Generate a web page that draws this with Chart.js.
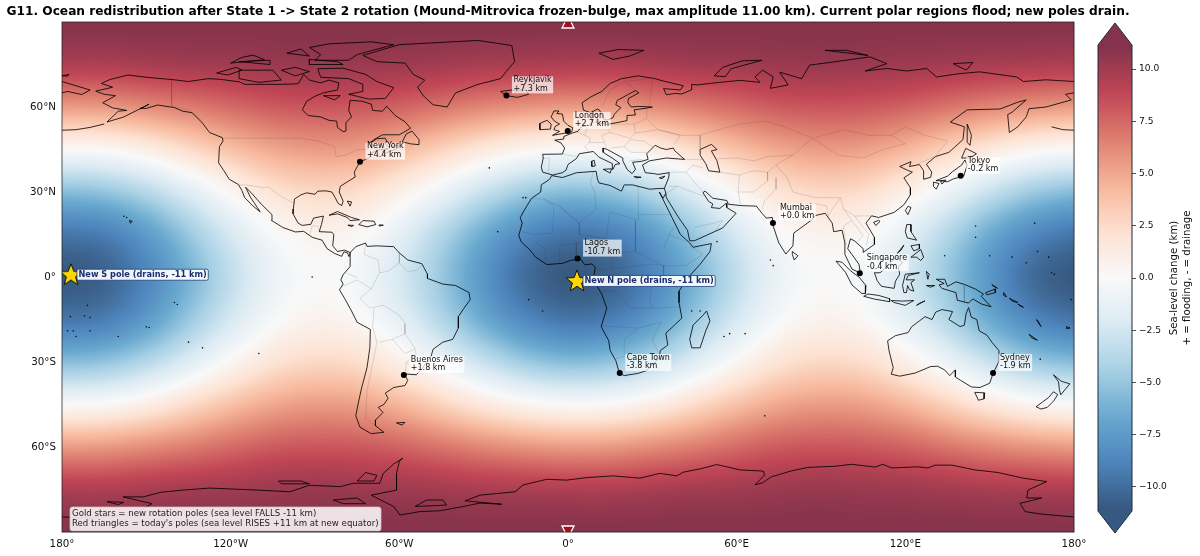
<!DOCTYPE html>
<html>
<head>
<meta charset="utf-8">
<title>G11 ocean redistribution</title>
<script src="https://cdn.jsdelivr.net/npm/chart.js@4"></script>
<style>
html, body { margin: 0; padding: 0; background: #fff; }
canvas { position: absolute; top: 0; }
#map { left: 0; }
#bar { left: 1080px; }
</style>
</head>
<body>
<canvas id="map" width="1136" height="556"></canvas>
<canvas id="bar" width="120" height="556"></canvas>
<script>
var titleText = "G11. Ocean redistribution after State 1 -> State 2 rotation (Mound-Mitrovica frozen-bulge, max amplitude 11.00 km). Current polar regions flood; new poles drain.";
var legendLines = ["Gold stars = new rotation poles (sea level FALLS -11 km)", "Red triangles = today's poles (sea level RISES +11 km at new equator)"];
var barLines = ["Sea-level change (km)", "+ = flooding, - = drainage"];

// sea-level change, km, one row per latitude
var fieldLons = [-180, -165, -150, -135, -120, -105, -90, -75, -60, -45, -30, -15, 0, 15, 30, 45, 60, 75, 90, 105, 120, 135, 150, 165, 180];
var fieldLats = [90, 75, 60, 45, 30, 15, 0, -15, -30, -45, -60, -75, -90];
var fieldValues = [
    [11, 11, 11, 11, 11, 11, 11, 11, 11, 11, 11, 11, 11, 11, 11, 11, 11, 11, 11, 11, 11, 11, 11, 11, 11],
    [9.5, 9.5, 9.7, 9.9, 10, 10.2, 10.3, 10.2, 10.1, 9.9, 9.7, 9.6, 9.5, 9.5, 9.7, 9.9, 10, 10.2, 10.3, 10.2, 10.1, 9.9, 9.7, 9.6, 9.5],
    [5.5, 5.6, 6.1, 6.7, 7.4, 8, 8.2, 8.1, 7.7, 7, 6.3, 5.8, 5.5, 5.6, 6.1, 6.7, 7.4, 8, 8.2, 8.1, 7.7, 7, 6.3, 5.8, 5.5],
    [0, 0.2, 1.1, 2.5, 3.9, 5, 5.5, 5.3, 4.4, 3, 1.6, 0.5, 0, 0.2, 1.1, 2.5, 3.9, 5, 5.5, 5.3, 4.4, 3, 1.6, 0.5, 0],
    [-5.5, -5.1, -3.8, -1.8, 0.3, 2, 2.7, 2.4, 1, -0.9, -3, -4.7, -5.5, -5.1, -3.8, -1.8, 0.3, 2, 2.7, 2.4, 1, -0.9, -3, -4.7, -5.5],
    [-9.5, -9.1, -7.4, -4.9, -2.3, -0.2, 0.7, 0.3, -1.4, -3.9, -6.5, -8.5, -9.5, -9.1, -7.4, -4.9, -2.3, -0.2, 0.7, 0.3, -1.4, -3.9, -6.5, -8.5, -9.5],
    [-11, -10.5, -8.7, -6.1, -3.3, -1, 0, -0.5, -2.3, -4.9, -7.7, -10, -11, -10.5, -8.7, -6.1, -3.3, -1, 0, -0.5, -2.3, -4.9, -7.7, -10, -11],
    [-9.5, -9.1, -7.4, -4.9, -2.3, -0.2, 0.7, 0.3, -1.4, -3.9, -6.5, -8.5, -9.5, -9.1, -7.4, -4.9, -2.3, -0.2, 0.7, 0.3, -1.4, -3.9, -6.5, -8.5, -9.5],
    [-5.5, -5.1, -3.8, -1.8, 0.3, 2, 2.7, 2.4, 1, -0.9, -3, -4.7, -5.5, -5.1, -3.8, -1.8, 0.3, 2, 2.7, 2.4, 1, -0.9, -3, -4.7, -5.5],
    [0, 0.2, 1.1, 2.5, 3.9, 5, 5.5, 5.3, 4.4, 3, 1.6, 0.5, 0, 0.2, 1.1, 2.5, 3.9, 5, 5.5, 5.3, 4.4, 3, 1.6, 0.5, 0],
    [5.5, 5.6, 6.1, 6.7, 7.4, 8, 8.2, 8.1, 7.7, 7, 6.3, 5.8, 5.5, 5.6, 6.1, 6.7, 7.4, 8, 8.2, 8.1, 7.7, 7, 6.3, 5.8, 5.5],
    [9.5, 9.5, 9.7, 9.9, 10, 10.2, 10.3, 10.2, 10.1, 9.9, 9.7, 9.6, 9.5, 9.5, 9.7, 9.9, 10, 10.2, 10.3, 10.2, 10.1, 9.9, 9.7, 9.6, 9.5],
    [11, 11, 11, 11, 11, 11, 11, 11, 11, 11, 11, 11, 11, 11, 11, 11, 11, 11, 11, 11, 11, 11, 11, 11, 11]
];

var cityNames = ["Reykjavik", "London", "New York", "Tokyo", "Mumbai", "Singapore", "Lagos", "Cape Town", "Buenos Aires", "Sydney"];
var cityLons = [-21.9, -0.1, -74, 139.7, 72.9, 103.8, 3.4, 18.4, -58.4, 151.2];
var cityLats = [64.1, 51.5, 40.7, 35.7, 19.1, 1.35, 6.5, -33.9, -34.6, -33.9];
var cityChanges = ["+7.3 km", "+2.7 km", "+4.4 km", "-0.2 km", "+0.0 km", "-0.4 km", "-10.7 km", "-3.8 km", "+1.8 km", "-1.9 km"];

var newPoleNames = ["New N pole (drains, -11 km)", "New S pole (drains, -11 km)"];
var newPoleLons = [3.2, -176.8];
var newPoleLats = [-1.4, 0.8];
var oldPoleLons = [0, 0];
var oldPoleLats = [90, -90];

var islandLons = [-177, -172, -170, -160, -158, -150, -149, -140, -139, -135, -130, -175, -176, -152, -157, -110, -91, -25, -16, -28, -15, 57.5, 55.5, 73, 72, 63, 70, 145, 145, 150, 158, 163, 167, 171, 172, 173, 179, 166, 168, -178, -170, -171, -14, -9, 47, 44, 53, 134];
var islandLats = [-14, -13.7, -14.3, -21, 21.4, -17.6, -17.8, -9, -9.7, -23, -25, -21, -19, 59.5, 21, -27, 0, 16, 28, 38.5, 28, -20, -21, 4, 6, -20, -49, 14, 18, 7.5, 7, 5, 9, 7, 1.5, 1, -8, 19, -29, -19, -19, -10, -8, -12, -12, -12, 12.5, 7.5];

var coastNorthAmerica = [[-168, 65.6], [-164, 66.5], [-162, 67], [-166, 68.3], [-163, 69.7], [-156.5, 71.3], [-150, 70.5], [-141, 69.7], [-135, 69], [-128, 70], [-124, 69.8], [-117, 68.9], [-115, 68], [-108, 68], [-102, 68], [-96, 68.2], [-94, 71.5], [-92, 69.5], [-88, 68.5], [-85, 69.5], [-81.5, 68.5], [-82, 66], [-87, 65], [-90, 63.8], [-93, 62], [-94.5, 59], [-92.5, 57], [-88, 56.5], [-85, 55.3], [-82.3, 55], [-82, 52.8], [-80, 51.3], [-79, 51.5], [-79, 54.5], [-77, 56.5], [-78, 58.8], [-77.5, 62.4], [-73, 62], [-70, 61], [-69.5, 58.8], [-66, 58.5], [-64.5, 60.3], [-61.5, 57], [-58, 54.8], [-56, 52.5], [-60, 50.2], [-66, 50.2], [-69, 48.5], [-71, 46.9], [-68, 48.8], [-65, 49], [-64.5, 48], [-65, 47], [-64, 46], [-60, 46.5], [-61, 45.2], [-65.5, 43.5], [-66, 44.5], [-64, 45.3], [-67, 45], [-70, 43.7], [-70.7, 42], [-74, 40.7], [-75.5, 38], [-76, 37], [-75.7, 35.3], [-78, 33.9], [-81, 32], [-81.4, 30], [-80, 26.8], [-80.5, 25.2], [-81.8, 26], [-82.8, 28], [-84, 30], [-86, 30.4], [-89, 30.3], [-90, 29.2], [-93, 29.7], [-95, 29], [-97.3, 27.5], [-97.7, 24], [-97.8, 22.3], [-96, 19], [-94.5, 18.2], [-91.5, 18.6], [-90.5, 20.8], [-87, 21.5], [-87.7, 18.5], [-88.5, 16], [-84, 15.8], [-83.3, 14.9], [-83.7, 11], [-82, 9], [-79.5, 9.5], [-77.4, 8.6], [-77.9, 7.2], [-78.5, 8.6], [-79.7, 8.9], [-80.5, 7.3], [-83, 8.3], [-85.7, 10], [-87.5, 13], [-91, 14], [-94, 16.1], [-97, 15.9], [-101.5, 17.5], [-105.5, 20], [-105.3, 22], [-109, 25.6], [-112.5, 29.5], [-114.7, 31.7], [-113, 28.2], [-110.5, 24.5], [-109.5, 23], [-112, 25], [-115, 28], [-116, 30.5], [-117.2, 32.6], [-120.5, 34.5], [-122.4, 37.5], [-124.3, 40.3], [-124, 46], [-122.7, 48], [-123, 49.2], [-127.5, 51], [-130, 54.3], [-133.7, 58], [-137, 58.5], [-140, 59.8], [-146, 60.7], [-150, 59.5], [-152, 59.5], [-149, 61], [-154, 58.5], [-158, 56.5], [-164, 54.7], [-160, 58.5], [-157, 58.8], [-162, 59.7], [-165.5, 61.5], [-161, 64], [-165, 64.5], [-168, 65.6]];
var coastSouthAmerica = [[-77.5, 8.6], [-75.5, 10.7], [-72, 12], [-71.5, 10.8], [-68, 11], [-62, 10.7], [-60, 8.5], [-57, 6], [-52, 4.7], [-50, 1], [-50, -0.5], [-44.5, -2.5], [-40, -3], [-35.2, -5.5], [-34.8, -8], [-37, -11], [-39, -14], [-39, -18], [-41, -22], [-44.5, -23], [-48, -25.5], [-48.7, -28], [-52, -32.5], [-54, -34.5], [-58.3, -34.2], [-57, -36.5], [-58, -38.3], [-62, -39], [-65, -41], [-64, -42.8], [-65.5, -45], [-67.5, -46], [-65.8, -47.8], [-68.5, -50.5], [-68.5, -52.5], [-65.5, -54.8], [-70, -55.3], [-74, -53], [-75.5, -49], [-74.5, -44], [-73.5, -39.5], [-71.5, -32], [-70.5, -25], [-70.3, -18.5], [-75, -16], [-77, -12], [-79.5, -7.5], [-81.3, -4.5], [-80, -2.5], [-80.8, -1], [-80, 0.8], [-77.5, 3.7], [-77.5, 7], [-77.5, 8.6]];
var coastAfrica = [[-5.8, 35.8], [-2, 35.1], [3, 36.8], [10, 37.3], [10.5, 34.5], [11, 33.2], [15, 32.3], [19, 30.3], [20, 32.5], [23, 32.5], [29, 31], [32, 31.2], [34.3, 31.3], [34.8, 29.5], [33.8, 27.8], [32.5, 30], [33.5, 28], [35.5, 24], [37, 21], [38.5, 18], [40, 15], [43.3, 12], [44.5, 10.5], [51, 11.8], [50.5, 9], [47, 4.5], [42, -1], [39.5, -5], [39.5, -9], [40.5, -14.5], [37, -17.8], [34.8, -19.8], [35.5, -24], [32.8, -26], [32.5, -28.5], [28, -33], [25, -34], [20, -34.8], [18.3, -34], [17, -29.5], [15, -26], [14.5, -22.5], [11.8, -17.5], [13.8, -11], [12, -6], [9, -1], [9.7, 3.5], [8.5, 4.6], [6, 4.3], [4.5, 6.3], [1, 5.9], [-2, 4.8], [-7.5, 4.4], [-11.5, 7], [-13.5, 9.5], [-16.7, 12.5], [-17.5, 14.7], [-16.3, 19], [-17, 21], [-15, 24.5], [-13, 27.7], [-9.7, 30], [-9.5, 32.5], [-6.5, 34.5], [-5.8, 35.8]];
var coastEurasiaNorth = [[-5.5, 36], [-9, 37], [-9.5, 38.7], [-8.8, 42], [-9, 43.3], [-2, 43.4], [-1.2, 45.5], [-2.5, 47.3], [-4.7, 48.3], [-1.5, 48.7], [-1.5, 49.6], [1.5, 50.8], [3.5, 51.4], [4.7, 53], [8, 53.7], [8.5, 55.5], [8.2, 57], [10.5, 57.7], [10.5, 56], [10, 54.5], [12, 54.2], [14.2, 53.9], [18.5, 54.7], [21, 55.2], [21, 57], [24, 57.2], [23.5, 59], [28, 59.6], [30, 60], [25, 60.2], [22.5, 60], [21.3, 61.5], [21.5, 63], [25.2, 65], [24, 65.8], [21.5, 64.5], [17.5, 62.3], [17, 60.8], [18.8, 59.8], [16.5, 57.5], [16, 56.2], [14.2, 55.5], [12.8, 55.5], [11.2, 58.9], [10.5, 59.3], [8, 58], [5.5, 58.9], [5, 61.5], [8, 63.5], [12, 65.5], [15, 68.3], [19, 70], [25, 71], [31, 70], [33, 69.4], [41, 67.5], [40, 66], [34, 66.5], [35, 64.3], [38, 64.8], [40.5, 64.6], [44, 66.1], [44, 68], [46, 67.8], [53, 68.6], [61.2, 69.4], [68.3, 68.7], [66.5, 70.6], [69.3, 73], [73, 70.6], [72, 66.6], [78.3, 67.8], [75.3, 72.3], [83.1, 70], [86, 74.8], [96.7, 76.2], [107.4, 77.7], [113.4, 75.3], [105.7, 72.7], [113.4, 73.6], [120.5, 72.7], [127.6, 73.6], [131.1, 70.6], [139.4, 71.8], [146.5, 72.4], [159.6, 70.6], [162, 69], [170, 69.6], [180, 69]];
var coastChukotka = [[-180, 69], [-175, 67.5], [-170, 66], [-173, 64.4], [-178, 65.5], [-180, 65]];
var coastEurasiaEast = [[180, 65], [177, 64.5], [179, 62.5], [170, 60], [164, 59.4], [163, 56.5], [160, 53], [157, 51], [156.4, 57.3], [158, 58.2], [163, 62.5], [160, 61.7], [153.7, 59.3], [142, 59], [136, 54.7], [141, 53], [140.5, 48.5], [135.5, 44], [130.7, 42.5], [127.5, 39.8], [129.4, 37], [129, 35.2], [126.5, 34.5], [126.5, 37.5], [125, 39.7], [121.5, 39], [122, 40.7], [118, 39], [120.7, 37.7], [122.5, 37], [119.5, 35], [121.8, 31.5], [121.8, 29], [119.5, 25.5], [116, 22.8], [110.5, 21], [108, 21.6], [106, 19], [109, 14], [109, 11.5], [105, 8.7], [105, 10], [102, 12.7], [100.5, 13.5], [99.5, 10], [103.5, 4.5], [104, 1.4], [101, 2.8], [98.5, 8], [98.5, 12], [97.5, 16.5], [94.5, 16], [94, 19], [91.5, 22.5], [88, 21.7], [86.5, 20], [80.3, 15.5], [80, 11], [77.5, 8.1], [75, 12], [73, 18], [72.7, 21], [70.5, 20.8], [69, 22.5], [67, 25], [61.5, 25.2], [57, 25.7], [56.5, 27], [51.5, 27.8], [48.8, 30.3], [48, 29.8], [50, 26.7], [51.5, 25.8], [51, 24.5], [54, 24.2], [56.3, 26], [56.5, 24.5], [59.8, 22.5], [55, 17.3], [45, 12.8], [43.3, 12.8], [42.5, 16.5], [39, 21.5], [35, 28], [34.8, 29.5]];
var coastMediterranean = [[34.3, 31.3], [35.8, 35], [36, 36.8], [32, 36.2], [30.5, 36.5], [27.5, 36.8], [26.5, 39.5], [29, 41], [35, 42], [41.5, 41.5], [38, 44.5], [37.5, 45.5], [35, 45], [33, 45.5], [31, 46.5], [28, 43.5], [28.5, 41.5], [26, 40.8], [23, 40.5], [24, 38], [22.8, 36.5], [21, 38], [19.5, 41], [19.5, 42], [14, 45], [12.5, 45.5], [12.5, 44], [16, 41.8], [18.5, 40], [16.8, 39.7], [16, 38], [15.8, 40], [11, 42.3], [9, 44.3], [4, 43.5], [3, 41.8], [0, 39.7], [-0.7, 37.7], [-2, 36.8], [-5.5, 36]];
var coastCaspian = [[47, 45], [51, 46.8], [53, 45], [51, 44.5], [53, 41], [54, 37], [50, 37.5], [49, 40], [47, 43], [47, 45]];
var coastAustralia = [[113.7, -22.5], [114.2, -26], [115.7, -32], [115, -34.3], [118, -35], [123.5, -33.9], [129, -31.6], [131.5, -31.5], [134, -32.8], [135.8, -34.8], [137.8, -32.8], [137.8, -35.3], [139.7, -36.5], [143.5, -38.8], [146.5, -39], [150, -37.5], [151.3, -33.8], [153.2, -30], [153.3, -26], [150.8, -23], [149, -20.5], [146.3, -19], [145.4, -15], [143.5, -14.2], [142.5, -10.8], [141.6, -13], [141, -17], [139.5, -17.5], [135.5, -15], [136.8, -12.2], [133, -11.5], [130.8, -12.4], [129.5, -15], [127, -14], [125, -15.5], [122.3, -17.5], [121, -19.6], [116.5, -20.7], [113.7, -22.5]];
var coastAntarctica = [[-180, -84.7], [-170, -85], [-155, -84], [-148, -80], [-158.3, -77.6], [-151, -77.6], [-145, -76], [-137, -75.2], [-127.4, -74.5], [-110.7, -75.2], [-98.9, -75.8], [-92, -73.5], [-81, -74], [-76.4, -72.8], [-67, -72.8], [-65.7, -69.3], [-62, -66], [-58.7, -63.9], [-60, -65], [-61, -69.3], [-61, -75.2], [-70, -77], [-66, -79], [-62, -81], [-59.8, -84], [-52.7, -82.8], [-45.5, -82.5], [-37.3, -81], [-31.3, -79.8], [-23.6, -80.2], [-36.6, -79], [-31.3, -77], [-18.8, -75.8], [-16, -73.4], [-7.6, -71.4], [-0.5, -71.7], [6.6, -70.8], [16, -70.2], [25.6, -71], [32.7, -69.3], [38.7, -70.2], [41, -68.9], [48, -67.5], [52.9, -66.2], [56.5, -67], [61.2, -68.1], [69.5, -68.5], [69.9, -69.9], [66.5, -73.4], [69.3, -72.6], [72.4, -70.5], [79.6, -68.4], [85.4, -67.2], [95, -66.8], [100.9, -66.1], [109.2, -67.1], [112, -66.1], [115.1, -67.4], [124.5, -67], [128, -67.4], [130.6, -66.4], [136.5, -66.4], [144.8, -68.1], [153, -69], [161.9, -71], [170.3, -72.2], [163.6, -75.2], [163.2, -78], [168.5, -78], [160.8, -79.9], [162.6, -82.8], [168.5, -83.7], [180, -84.7]];
var coastIslands = [
    [[-80, 73.7], [-72, 71.5], [-68, 69], [-62, 66.8], [-65, 63], [-71, 62.8], [-78, 64.5], [-73, 65.5], [-73, 68], [-78, 70], [-88, 70.5], [-89, 73.5], [-80, 73.7]],
    [[-117, 73], [-105, 73], [-102, 69.5], [-110, 68.7], [-117, 70], [-117, 73]],
    [[-125, 72], [-118, 74], [-116, 73], [-121, 71.3], [-125, 72]],
    [[-90, 76.5], [-78, 76.5], [-75, 78.5], [-62, 82], [-70, 83], [-85, 82.3], [-92, 81], [-88, 78.5], [-90, 76.5]],
    [[-92, 75], [-80, 75], [-82, 76], [-92, 76.8], [-92, 75]],
    [[-117, 76], [-106, 75], [-106, 76.5], [-117, 76]],
    [[-100, 79], [-92, 78], [-95, 80.5], [-100, 79]],
    [[-120, 75.5], [-116, 77.5], [-112, 78.3], [-108, 76.7], [-120, 75.5]],
    [[-102, 73], [-97, 71], [-92, 72.5], [-97, 74], [-102, 73]],
    [[-87, 64], [-81, 64], [-83, 62.5], [-87, 64]],
    [[-59, 47.7], [-56, 47], [-53, 46.7], [-53, 48.5], [-55.5, 51.5], [-57.5, 50.5], [-59, 47.7]],
    [[-73, 78.2], [-60, 82], [-32, 83.5], [-20, 81.7], [-19, 76], [-22, 72.5], [-24, 70], [-32, 68], [-40, 65], [-43, 60], [-48, 60.8], [-51.5, 64], [-53.5, 67], [-51, 69.5], [-55, 71.5], [-58, 75.5], [-68, 76], [-73, 78.2]],
    [[-24, 65.5], [-22, 64], [-18, 63.4], [-14, 64.5], [-15, 66], [-20, 66], [-24, 65.5]],
    [[-85, 21.8], [-82, 23.1], [-77, 21], [-74.2, 20.2], [-77.5, 19.9], [-78.5, 21], [-82, 22.3], [-85, 21.8]],
    [[-74.4, 18.5], [-73, 19.9], [-69, 19.7], [-68.4, 18.5], [-71.5, 17.7], [-74.4, 18.5]],
    [[-78.3, 18.3], [-76.3, 18.2], [-77, 17.8], [-78.3, 18.3]],
    [[-67.2, 18.4], [-65.7, 18.3], [-67, 18], [-67.2, 18.4]],
    [[-78.5, 26.8], [-77, 26.5], [-77.5, 25], [-78.5, 26.8]],
    [[-61, -51.5], [-58, -51.3], [-59, -52.3], [-61, -51.5]],
    [[49.3, -12], [50.5, -15.5], [49, -19], [47, -25], [44, -25], [43.3, -22], [44.5, -17], [48, -13.5], [49.3, -12]],
    [[-5.5, 50], [1.3, 51.2], [1.7, 52.7], [0, 53.5], [-1.5, 55], [-2, 57.5], [-4, 57.7], [-3.2, 58.6], [-5, 58.6], [-6, 56.5], [-4.8, 55], [-3, 54], [-4.5, 53.2], [-5, 52], [-3, 51.4], [-5.5, 50]],
    [[-10, 52], [-6.2, 52.2], [-6, 54], [-7.5, 55.3], [-10, 54.2], [-10, 52]],
    [[8.5, 39], [9.7, 39.2], [9.3, 41.2], [8.3, 40.8], [8.5, 39]],
    [[12.5, 38], [15.5, 38.2], [15, 36.7], [12.5, 38]],
    [[23.5, 35.5], [26, 35.2], [24, 35], [23.5, 35.5]],
    [[32.5, 35], [34.5, 35.6], [33.5, 34.7], [32.5, 35]],
    [[11, 79], [16, 76.8], [22, 78], [27, 80], [18, 80.3], [11, 79]],
    [[52, 71], [56, 70.7], [58, 73.5], [69, 76.5], [62, 76.3], [55, 74], [52, 71]],
    [[91.4, 80], [99, 80], [106.7, 78.2], [100, 79], [91.4, 80]],
    [[137, 75.3], [144, 75.7], [141.7, 73], [137, 75.3]],
    [[142, 54], [143.5, 50], [143, 46.5], [142, 47.5], [142, 54]],
    [[130.9, 34], [135, 35.6], [136.8, 37.2], [140, 39.5], [141.2, 41.3], [142, 39.5], [140.8, 35.7], [137, 34.6], [135, 33.6], [132, 34], [130.9, 34]],
    [[140, 42], [141.5, 45.4], [145.3, 43.5], [143, 42], [140, 42]],
    [[130, 33.5], [132, 33], [131, 31], [130, 32], [130, 33.5]],
    [[132.5, 34], [134.5, 34.2], [133, 32.8], [132.5, 34]],
    [[121, 25], [122, 24.5], [120.9, 22], [120, 23.5], [121, 25]],
    [[108.7, 19.3], [110.5, 20], [111, 19.6], [109.5, 18.2], [108.7, 19.3]],
    [[79.8, 9], [81.8, 7.5], [80.5, 6], [79.8, 8], [79.8, 9]],
    [[120.5, 18.5], [122, 18.5], [122, 16], [124, 13], [120.7, 13.8], [120, 16], [120.5, 18.5]],
    [[122, 7], [125.5, 9.7], [126.5, 7], [125.5, 5.8], [124, 7], [122, 7]],
    [[117.2, 8.4], [119.5, 11.3], [118.5, 9.5], [117.2, 8.4]],
    [[122, 11], [125, 11.5], [125, 10], [123, 9.2], [122, 11]],
    [[109, 1.5], [111, 1.5], [113, 3.2], [116.8, 7], [119, 5], [117.5, 3.5], [118, 1], [116.5, -1.5], [116, -4], [111.5, -3.3], [110, -1.3], [109, 1.5]],
    [[95.3, 5.6], [97.5, 5.2], [100.5, 2.2], [103.5, 0], [106, -3], [105.8, -5.8], [104.5, -5.8], [101, -2.8], [98.7, 1.7], [95.3, 5.6]],
    [[105.2, -6.8], [106.7, -6], [110.5, -6.5], [114.5, -7.7], [114.4, -8.7], [109, -7.8], [105.2, -6.8]],
    [[115, -8.3], [119, -8.5], [123, -8.3], [120, -10], [116, -9], [115, -8.3]],
    [[124, -10], [127, -8.4], [125, -9.3], [124, -10]],
    [[120, 1], [125, 1.5], [121, 0.5], [120.3, -1], [123.3, -1], [122, -2], [123, -5], [121.5, -4.5], [120.8, -3], [120.4, -5.5], [119.5, -5.5], [119, -3], [120, 1]],
    [[127.5, 2], [128.5, 1], [128, -0.8], [127.5, 2]],
    [[127.5, -3], [130.5, -3], [129, -3.6], [127.5, -3]],
    [[131, -0.8], [134, -0.8], [135, -3.3], [138, -1.7], [141, -2.6], [145, -4.3], [147.8, -6], [147, -6.8], [150.5, -10.5], [147, -9.5], [144, -7.7], [142.5, -9.2], [138.5, -8.2], [138, -5.5], [133, -4], [132, -2.8], [133.8, -2.3], [131, -0.8]],
    [[148.5, -5.6], [152, -4.2], [152, -5.5], [149, -6.3], [148.5, -5.6]],
    [[150.8, -2.7], [152.8, -4], [151, -3], [150.8, -2.7]],
    [[155, -5.5], [156, -7], [155, -6.5], [155, -5.5]],
    [[157, -7.5], [160, -9], [158, -8.5], [157, -7.5]],
    [[160, -9.5], [162, -10.7], [160.5, -10], [160, -9.5]],
    [[164, -20.2], [167, -22.3], [165, -21.5], [164, -20.2]],
    [[166.7, -15], [167.5, -16], [168.3, -17.5], [167.5, -16.5], [166.7, -15]],
    [[177.3, -17.5], [178.6, -18], [177.5, -18.2], [177.3, -17.5]],
    [[144.7, -40.7], [148.2, -40.9], [148, -43], [146, -43.5], [144.7, -40.7]],
    [[172.7, -34.5], [175.5, -36.8], [178.5, -37.7], [177, -39.5], [175.3, -41.6], [174.8, -39.8], [174.5, -37], [172.7, -34.5]],
    [[172.7, -40.5], [174.2, -41.5], [172.8, -43.7], [170.5, -46], [168.3, -46.6], [166.5, -45.8], [171, -42.5], [172.7, -40.5]],
    [[-156, 20], [-155, 19.6], [-155.7, 19], [-156, 20]],
    [[-180, 51.8], [-175, 52], [-170, 52.8], [-165, 54]],
    [[172, 53], [176, 52], [180, 51.8]],
    [[-180, 71], [-177.5, 71.5], [-178, 70.9], [-180, 71]],
    [[-103, -72], [-95, -72], [-92, -73], [-102, -73], [-103, -72]],
    [[-83.5, -78.7], [-75, -78], [-72, -80], [-80, -80], [-83.5, -78.7]],
    [[-72, -69], [-68, -70], [-69, -72], [-75, -72], [-72, -69]],
    [[-54.4, -81], [-50.3, -78.7], [-44.5, -78.7], [-43.2, -80.5], [-54.4, -81]],
    [[-164, -79.3], [-158, -79.5], [-160, -80.3], [-164, -79.3]]
];

var borderLines = [
    [[-123, 49], [-95, 49], [-89, 48], [-83, 46], [-82.5, 42.5], [-79, 43], [-75, 45], [-71, 45], [-69, 47.3], [-67.5, 45.5]],
    [[-141, 69.7], [-141, 60.3], [-135, 59], [-130, 55]],
    [[-117, 32.5], [-114.7, 32.5], [-108, 31.5], [-106.5, 31.8], [-103, 29], [-99.5, 27], [-97.2, 26]],
    [[-92, 14.5], [-91, 18], [-89, 18], [-88, 16]],
    [[-72, 12], [-72.5, 8], [-67.5, 6], [-67, 1.5], [-70, -4.2]],
    [[-60, 8.5], [-60, 5], [-57, 2], [-54, 2.3], [-52, 4]],
    [[-60, 5], [-64, 2], [-67, 1.5]],
    [[-70, -4.2], [-74, -7.5], [-70.5, -11], [-65.5, -10], [-60, -13.5], [-58, -16.5], [-58, -20], [-54.5, -25], [-54, -27.5], [-57.5, -30], [-53.5, -33.5]],
    [[-69.5, -17.5], [-68, -23], [-70, -33], [-71.5, -40], [-72, -50], [-68.5, -52.5]],
    [[-69.5, -17.5], [-69, -11]],
    [[-58, -20], [-62.5, -22], [-67, -23]],
    [[-62.5, -22], [-58, -27], [-54.5, -25.5]],
    [[-80.5, -3.5], [-75, -1], [-70, -4.2]],
    [[-78.8, 1.4], [-75, -0.2]],
    [[-58, -34], [-57.5, -30]],
    [[9, 37], [8, 33], [9.5, 30], [10, 24], [4, 19], [-3, 25], [-8.7, 27.5], [-13, 27.7]],
    [[-8.7, 27.5], [-5, 25], [-5.5, 15.5], [-12, 15], [-16.5, 16]],
    [[-3, 25], [4, 19], [4, 15], [13.5, 13.5], [15, 23], [25, 20], [25, 32]],
    [[25, 22], [37, 22]],
    [[24, 20], [24, 9], [34, 4], [42, 4], [48, 8], [43, 11]],
    [[34, 4], [34, -1], [40, -4.5]],
    [[30, -1], [29, -8], [30, -11], [40.5, -10.5]],
    [[12, -5], [17, -5], [22, -11], [30, -11]],
    [[12, -17.3], [25, -18], [33, -16], [30, -22], [32, -26.5]],
    [[17, -28.8], [20, -28], [20, -22], [25, -18]],
    [[13.5, 13.5], [15, 8], [16, 3], [9.5, 2.2]],
    [[3, 12], [3, 6.3]],
    [[-3, 5], [-3, 11], [3, 12], [13.5, 13.5]],
    [[-8, 4.5], [-8, 10], [-12, 12.5]],
    [[16, 3], [30, 4.5], [34, 4]],
    [[24, 9], [15, 8]],
    [[36, 15], [38, 18]],
    [[34, 10], [36, 15], [42, 12.5]],
    [[-1.8, 43.4], [3, 42.5]],
    [[-9, 42], [-6.5, 42], [-7, 37.2]],
    [[3, 51.3], [6, 50], [8, 49], [7.5, 47.5], [6, 46], [7.5, 44]],
    [[7, 53.3], [6, 50]],
    [[9, 54.8], [14.2, 53.9], [15, 51], [12, 50], [13, 47.5], [7.5, 47.5]],
    [[14.2, 53.9], [23.5, 54], [24, 50.8], [22, 49], [15, 51]],
    [[13, 47.5], [13.7, 45.7]],
    [[22, 48.5], [27, 48], [30, 46]],
    [[23.5, 54], [28, 56], [28, 59.5]],
    [[24, 50.8], [32, 52], [40, 50], [38, 47]],
    [[22, 48.5], [20, 46], [22.5, 44], [28, 44]],
    [[20, 46], [15, 45.5]],
    [[22, 41], [26.5, 41.5]],
    [[30, 70], [29, 61], [28, 59.5]],
    [[12, 60], [15, 66], [20, 69], [29, 70]],
    [[20, 69], [24, 66]],
    [[28, 56], [32, 52], [40, 50], [47, 50], [47, 45]],
    [[47, 50], [50, 51], [61, 54], [70, 55], [77, 53], [87, 49], [98, 52], [107, 50], [115, 50], [120, 53], [127, 50], [135, 48], [131, 43], [130.7, 42.5]],
    [[87, 49], [96, 43], [105, 42], [112, 45], [120, 47], [115, 50]],
    [[87, 49], [80, 43], [74, 39.5], [78, 35], [80, 30], [88, 28], [97, 28], [98, 24], [102, 21.5], [108, 21.6]],
    [[53, 41.7], [60, 42], [66, 41], [71, 42.5], [80, 43]],
    [[54, 37], [61, 36], [66, 37.5], [71, 37], [74, 39.5]],
    [[61, 36], [60.5, 30], [61.5, 25.2]],
    [[71, 37], [71, 34], [66, 30], [60.5, 30]],
    [[74, 35], [74, 31], [70, 27], [69, 24]],
    [[88, 26], [92, 25], [92.5, 22]],
    [[97, 28], [94, 24], [92.3, 21]],
    [[98, 24], [101, 20], [98, 18], [99, 11]],
    [[102, 21.5], [107, 15], [106, 11]],
    [[105, 14.5], [102.5, 12]],
    [[101, 20], [105, 14.5]],
    [[124.5, 40], [130.5, 42.5]],
    [[35, 37], [42, 37], [48, 30]],
    [[36, 32], [39, 32], [47, 29], [48.5, 28.5]],
    [[35, 29.5], [39, 32]],
    [[42, 37], [44.5, 39.5], [48, 38.5]],
    [[45, 17.5], [52, 19], [55, 20], [52.5, 16.5]],
    [[41.5, 41.5], [48, 41.5]],
    [[141, -2.6], [141, -9]],
    [[115, 4], [117.5, 4.2]]
];

var rdbuStops = [[5, 48, 97], [33, 102, 172], [67, 147, 195], [146, 197, 222], [209, 229, 240], [247, 247, 247], [253, 219, 199], [244, 165, 130], [214, 96, 77], [178, 24, 43], [103, 0, 31]];
var meshAlpha = 0.8;
var fontName = "'DejaVu Sans', sans-serif";

Chart.defaults.font.family = fontName;
Chart.defaults.animation = false;

function valueColor(v) {
    var t = (v + 11) / 22;
    if (t < 0) t = 0;
    if (t > 1) t = 1;
    var pos = t * (rdbuStops.length - 1);
    var i = Math.min(Math.floor(pos), rdbuStops.length - 2);
    var f = pos - i;
    var rgb = [];
    for (var k = 0; k < 3; k++) {
        var c = rdbuStops[i][k] + (rdbuStops[i + 1][k] - rdbuStops[i][k]) * f;
        rgb[k] = Math.round(c * meshAlpha + 255 * (1 - meshAlpha));
    }
    return rgb;
}

function cssColor(v) {
    var rgb = valueColor(v);
    return "rgb(" + rgb[0] + "," + rgb[1] + "," + rgb[2] + ")";
}

function toPoints(list) {
    var out = [];
    for (var i = 0; i < list.length; i++) {
        out.push({ x: list[i][0], y: list[i][1] });
    }
    return out;
}

function zipPoints(xs, ys) {
    var out = [];
    for (var i = 0; i < xs.length; i++) {
        out.push({ x: xs[i], y: ys[i] });
    }
    return out;
}

// smooth shading between the grid nodes, same idea as pcolormesh gouraud
function cubic(a, b, c, d, t) {
    return b + 0.5 * t * (c - a + t * (2 * a - 5 * b + 4 * c - d + t * (3 * (b - c) + d - a)));
}

function fieldAt(lon, lat) {
    var u = (lon - fieldLons[0]) / (fieldLons[1] - fieldLons[0]);
    var w = (fieldLats[0] - lat) / (fieldLats[0] - fieldLats[1]);
    var iu = Math.max(0, Math.min(fieldLons.length - 2, Math.floor(u)));
    var iw = Math.max(0, Math.min(fieldLats.length - 2, Math.floor(w)));
    var cols = [];
    for (var r = -1; r <= 2; r++) {
        var row = fieldValues[Math.max(0, Math.min(fieldLats.length - 1, iw + r))];
        var vals = [];
        for (var q = -1; q <= 2; q++) {
            vals.push(row[Math.max(0, Math.min(fieldLons.length - 1, iu + q))]);
        }
        cols.push(cubic(vals[0], vals[1], vals[2], vals[3], u - iu));
    }
    return cubic(cols[0], cols[1], cols[2], cols[3], w - iw);
}

var fieldCanvas = null;

var fieldPlugin = {
    id: "fieldPlugin",
    beforeDatasetsDraw: function (chart) {
        var area = chart.chartArea;
        var xs = chart.scales.x;
        var ys = chart.scales.y;
        if (!fieldCanvas) {
            var w = Math.round(area.right - area.left);
            var h = Math.round(area.bottom - area.top);
            fieldCanvas = document.createElement("canvas");
            fieldCanvas.width = w;
            fieldCanvas.height = h;
            var fctx = fieldCanvas.getContext("2d");
            var img = fctx.createImageData(w, h);
            for (var py = 0; py < h; py++) {
                var lat = ys.getValueForPixel(area.top + py + 0.5);
                for (var px = 0; px < w; px++) {
                    var lon = xs.getValueForPixel(area.left + px + 0.5);
                    var rgb = valueColor(fieldAt(lon, lat));
                    var o = (py * w + px) * 4;
                    img.data[o] = rgb[0];
                    img.data[o + 1] = rgb[1];
                    img.data[o + 2] = rgb[2];
                    img.data[o + 3] = 255;
                }
            }
            fctx.putImageData(img, 0, 0);
        }
        chart.ctx.drawImage(fieldCanvas, area.left, area.top);
    },
    afterDraw: function (chart) {
        var ctx = chart.ctx;
        var area = chart.chartArea;
        var xs = chart.scales.x;
        var ys = chart.scales.y;
        ctx.save();

        // city labels
        ctx.font = "8px " + fontName;
        ctx.textBaseline = "middle";
        ctx.textAlign = "left";
        for (var i = 0; i < cityNames.length; i++) {
            var cx = xs.getPixelForValue(cityLons[i]);
            var cy = ys.getPixelForValue(cityLats[i]);
            var boxW = Math.max(ctx.measureText(cityNames[i]).width, ctx.measureText(cityChanges[i]).width) + 3;
            ctx.fillStyle = "rgba(255,255,255,0.7)";
            ctx.fillRect(cx + 5.5, cy - 19, boxW, 17);
            ctx.fillStyle = "#111";
            ctx.fillText(cityNames[i], cx + 7, cy - 15.3);
            ctx.fillText(cityChanges[i], cx + 7, cy - 6.7);
        }

        // new pole labels
        ctx.font = "bold 8.2px " + fontName;
        for (var p = 0; p < newPoleNames.length; p++) {
            var sx = xs.getPixelForValue(newPoleLons[p]);
            var sy = ys.getPixelForValue(newPoleLats[p]);
            var nameW = ctx.measureText(newPoleNames[p]).width;
            ctx.beginPath();
            ctx.roundRect(sx + 6, sy - 5.5, nameW + 3, 11, 1.5);
            ctx.fillStyle = "rgba(255,255,255,0.92)";
            ctx.fill();
            ctx.strokeStyle = "#1f3a7a";
            ctx.lineWidth = 0.8;
            ctx.stroke();
            ctx.fillStyle = "#1a2f70";
            ctx.fillText(newPoleNames[p], sx + 7.5, sy + 0.3);
        }

        // note box in the lower left
        ctx.font = "8.6px " + fontName;
        ctx.beginPath();
        ctx.roundRect(area.left + 8, 507, 311, 24, 2.5);
        ctx.fillStyle = "rgba(255,255,255,0.85)";
        ctx.fill();
        ctx.strokeStyle = "rgba(200,200,200,0.9)";
        ctx.lineWidth = 0.8;
        ctx.stroke();
        ctx.fillStyle = "#222";
        ctx.fillText(legendLines[0], area.left + 10, 513.5);
        ctx.fillText(legendLines[1], area.left + 10, 523.5);

        // frame
        ctx.strokeStyle = "rgba(30,30,30,0.75)";
        ctx.lineWidth = 1;
        ctx.strokeRect(area.left, area.top, area.right - area.left, area.bottom - area.top);
        ctx.restore();
    }
};

function makeStar() {
    var star = document.createElement("canvas");
    star.width = 26;
    star.height = 26;
    var c = star.getContext("2d");
    c.beginPath();
    for (var i = 0; i < 10; i++) {
        var r = i % 2 == 0 ? 11.5 : 4.8;
        var a = -Math.PI / 2 + i * Math.PI / 5;
        var px = 13 + r * Math.cos(a);
        var py = 13.5 + r * Math.sin(a);
        if (i == 0) c.moveTo(px, py); else c.lineTo(px, py);
    }
    c.closePath();
    c.fillStyle = "#ffd700";
    c.fill();
    c.strokeStyle = "#111";
    c.lineWidth = 1;
    c.stroke();
    return star;
}

// marker shaped like matplotlib's ^ and v, only the half inside the plot is kept
function makeTriangle(up) {
    var tri = document.createElement("canvas");
    tri.width = 16;
    tri.height = 16;
    var c = tri.getContext("2d");
    var tip = up ? 2 : 14;
    var base = up ? 14 : 2;
    c.beginPath();
    c.rect(0, up ? 8 : 0, 16, 8);
    c.clip();
    c.beginPath();
    c.moveTo(8, tip);
    c.lineTo(14, base);
    c.lineTo(2, base);
    c.closePath();
    c.fillStyle = "#a50f20";
    c.fill();
    c.strokeStyle = "#fff";
    c.lineWidth = 1.3;
    c.stroke();
    return tri;
}

function lonLabel(v) {
    if (v == 0) return "0°";
    if (Math.abs(v) == 180) return "180°";
    return Math.abs(v) + (v < 0 ? "°W" : "°E");
}

function latLabel(v) {
    if (Math.abs(v) == 90) return "";
    if (v == 0) return "0°";
    return Math.abs(v) + (v < 0 ? "°S" : "°N");
}

function makeMap() {
    var datasets = [];

    var fieldPoints = [];
    for (var r = 0; r < fieldLats.length; r++) {
        for (var q = 0; q < fieldLons.length; q++) {
            fieldPoints.push({ x: fieldLons[q], y: fieldLats[r], v: fieldValues[r][q] });
        }
    }
    datasets.push({ label: "field", data: fieldPoints, pointRadius: 0, showLine: false });

    for (var b = 0; b < borderLines.length; b++) {
        datasets.push({ data: toPoints(borderLines[b]), showLine: true, pointRadius: 0, borderColor: "rgba(50,50,50,0.22)", borderWidth: 0.7 });
    }

    var coasts = [coastNorthAmerica, coastSouthAmerica, coastAfrica, coastEurasiaNorth, coastChukotka, coastEurasiaEast, coastMediterranean, coastCaspian, coastAustralia, coastAntarctica].concat(coastIslands);
    for (var c = 0; c < coasts.length; c++) {
        datasets.push({ data: toPoints(coasts[c]), showLine: true, pointRadius: 0, borderColor: "rgba(0,0,0,0.9)", borderWidth: 0.9 });
    }

    datasets.push({ label: "islands", data: zipPoints(islandLons, islandLats), pointRadius: 0.8, pointBackgroundColor: "#111", pointBorderWidth: 0, showLine: false });
    datasets.push({ label: "cities", data: zipPoints(cityLons, cityLats), pointRadius: 3, pointBackgroundColor: "#000", pointBorderWidth: 0, showLine: false });
    datasets.push({ label: "new poles", data: zipPoints(newPoleLons, newPoleLats), pointStyle: makeStar(), showLine: false });
    datasets.push({ label: "old pole north", data: [{ x: oldPoleLons[0], y: oldPoleLats[0] }], pointStyle: makeTriangle(true), clip: 0, showLine: false });
    datasets.push({ label: "old pole south", data: [{ x: oldPoleLons[1], y: oldPoleLats[1] }], pointStyle: makeTriangle(false), clip: 0, showLine: false });

    new Chart(document.getElementById("map").getContext("2d"), {
        type: "scatter",
        data: { datasets: datasets },
        plugins: [fieldPlugin],
        options: {
            responsive: false,
            devicePixelRatio: 1,
            elements: { line: { tension: 0 } },
            plugins: {
                legend: { display: false },
                tooltip: { enabled: false },
                title: {
                    display: true,
                    text: titleText,
                    color: "#000",
                    font: { size: 12.2, weight: "bold", lineHeight: 1.2 },
                    padding: { top: 5, bottom: 2.36 }
                }
            },
            scales: {
                x: {
                    type: "linear",
                    min: -180,
                    max: 180,
                    afterFit: function (s) { s.height = 24; },
                    ticks: { stepSize: 60, color: "#111", font: { size: 10.3 }, maxRotation: 0, autoSkip: false, padding: 6, callback: lonLabel },
                    grid: { color: "rgba(110,110,110,0.3)", lineWidth: 0.7, drawTicks: false },
                    border: { display: false }
                },
                y: {
                    type: "linear",
                    min: -90,
                    max: 90,
                    afterFit: function (s) { s.width = 62; },
                    ticks: { stepSize: 30, color: "#111", font: { size: 10.3 }, padding: 6, callback: latLabel },
                    grid: { color: "rgba(110,110,110,0.3)", lineWidth: 0.7, drawTicks: false },
                    border: { display: false }
                },
                // empty axis on the right, keeps the title centred over the plot
                spacer: {
                    type: "linear",
                    position: "right",
                    afterFit: function (s) { s.width = 62; },
                    ticks: { display: false },
                    grid: { display: false, drawTicks: false },
                    border: { display: false }
                }
            }
        }
    });
}

var barPlugin = {
    id: "barPlugin",
    afterDraw: function (chart) {
        var ctx = chart.ctx;
        var area = chart.chartArea;
        var mid = (area.left + area.right) / 2;
        ctx.save();
        ctx.lineWidth = 1;
        ctx.strokeStyle = "#1c2a3a";

        // extension arrows
        ctx.beginPath();
        ctx.moveTo(area.left, area.top);
        ctx.lineTo(mid, 23);
        ctx.lineTo(area.right, area.top);
        ctx.closePath();
        ctx.fillStyle = cssColor(11);
        ctx.fill();
        ctx.beginPath();
        ctx.moveTo(area.left, area.bottom);
        ctx.lineTo(mid, 533);
        ctx.lineTo(area.right, area.bottom);
        ctx.closePath();
        ctx.fillStyle = cssColor(-11);
        ctx.fill();

        // outline
        ctx.beginPath();
        ctx.moveTo(area.left, area.top);
        ctx.lineTo(mid, 23);
        ctx.lineTo(area.right, area.top);
        ctx.lineTo(area.right, area.bottom);
        ctx.lineTo(mid, 533);
        ctx.lineTo(area.left, area.bottom);
        ctx.closePath();
        ctx.stroke();

        // axis caption, reads bottom to top
        ctx.font = "10.2px " + fontName;
        ctx.fillStyle = "#111";
        ctx.textAlign = "center";
        ctx.textBaseline = "middle";
        ctx.translate(94, 278);
        ctx.rotate(-Math.PI / 2);
        ctx.fillText(barLines[0], 0, 0);
        ctx.fillText(barLines[1], 0, 13);
        ctx.restore();
    }
};

function makeBar() {
    new Chart(document.getElementById("bar").getContext("2d"), {
        type: "bar",
        data: {
            labels: ["change"],
            datasets: [{
                data: [[-11.15, 11.15]],
                barPercentage: 1,
                categoryPercentage: 1,
                backgroundColor: function (context) {
                    var chart = context.chart;
                    if (!chart.chartArea) return "#fff";
                    var ys = chart.scales.y;
                    var grad = chart.ctx.createLinearGradient(0, ys.getPixelForValue(11), 0, ys.getPixelForValue(-11));
                    for (var i = 0; i <= 22; i++) {
                        grad.addColorStop(i / 22, cssColor(11 - i));
                    }
                    return grad;
                }
            }]
        },
        plugins: [barPlugin],
        options: {
            responsive: false,
            devicePixelRatio: 1,
            layout: { padding: { left: 18, right: 0, top: 45, bottom: 45 } },
            plugins: { legend: { display: false }, tooltip: { enabled: false }, title: { display: false } },
            scales: {
                x: { display: false },
                y: {
                    position: "right",
                    min: -11.15,
                    max: 11.15,
                    afterFit: function (s) { s.width = 68; },
                    ticks: {
                        stepSize: 2.5,
                        includeBounds: false,
                        color: "#111",
                        font: { size: 9.1 },
                        padding: 3,
                        callback: function (v) { return (v < 0 ? "\u2212" : "") + Math.abs(v).toFixed(1); }
                    },
                    grid: { display: true, drawOnChartArea: false, drawTicks: true, tickLength: 4, color: "#222", lineWidth: 0.8 },
                    border: { display: false }
                }
            }
        }
    });
}

makeMap();
makeBar();
</script>
</body>
</html>
